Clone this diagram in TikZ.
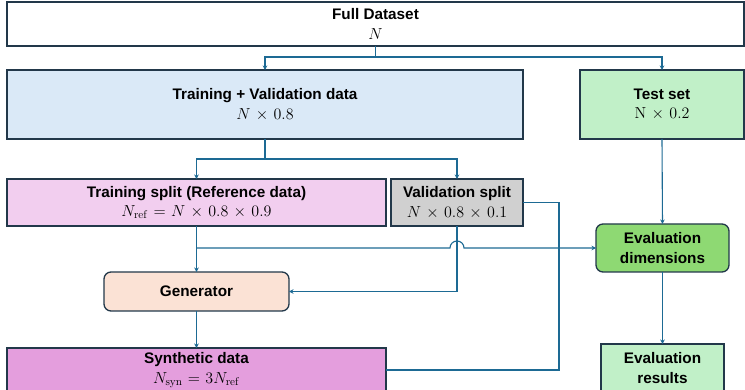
\RequirePackage{fix-cm}
\documentclass[tikz,border=0pt]{standalone}
\usepackage[no-math]{fontspec}
\setsansfont{Liberation Sans}
\usetikzlibrary{arrows.meta,calc}
\definecolor{bordc}{HTML}{22384A}
\definecolor{connc}{HTML}{1D6A94}
\definecolor{tvc}{HTML}{DAE9F7}
\definecolor{testc}{HTML}{C1F0C8}
\definecolor{trainc}{HTML}{F2CEEF}
\definecolor{valc}{HTML}{D0D0D0}
\definecolor{evdc}{HTML}{8ED973}
\definecolor{genc}{HTML}{FBE2D5}
\definecolor{sync}{HTML}{E49EDD}
\newcommand\lbl{\fontsize{15.3}{19.5}\selectfont}
\newcommand\hd[1]{{\sffamily\bfseries #1}}
\newcommand\mth[1]{{\fontsize{16}{19.5}\selectfont\medmuskip=6mu\thickmuskip=6mu$#1$}}
\begin{document}
\begin{tikzpicture}[x=1pt,y=-1pt,
  box/.style={draw=bordc, line width=1.3pt, inner sep=0pt, outer sep=0pt, align=center, font=\lbl},
  rbox/.style={box, rounded corners=7pt},
  conn/.style={draw=connc, line width=1.1pt},
  arr/.style={conn, -{Stealth[length=4.5pt,width=4.5pt]}}]
\useasboundingbox (0,0) rectangle (745,390);
\clip (0,0) rectangle (745,390);
\node[box, fill=white, minimum width=737, minimum height=44] (full) at (375.5,24) {\hd{Full Dataset}\\\mth{N}};
\node[box, fill=tvc, minimum width=516, minimum height=69] (tv) at (265,104.5) {\hd{Training + Validation data}\\\mth{N\times 0.8}};
\node[box, fill=testc, minimum width=164, minimum height=69] (test) at (662,104.5) {\hd{Test set}\\\mth{\mathrm{N}\times 0.2}};
\node[box, fill=trainc, minimum width=379, minimum height=47] (train) at (196.5,202.5) {\hd{Training split (Reference data)}\\\mth{N_{\mathrm{ref}} = N\times 0.8\times 0.9}};
\node[box, fill=valc, minimum width=132, minimum height=47] (val) at (457,202.5) {\hd{Validation split}\\\mth{N\times 0.8\times 0.1}};
\node[rbox, fill=evdc, minimum width=133, minimum height=48] (evald) at (662.5,248) {\hd{Evaluation}\\\hd{dimensions}};
\node[rbox, fill=genc, minimum width=185, minimum height=39] (gen) at (196.5,291.5) {\hd{Generator}};
\node[box, fill=sync, minimum width=379, minimum height=44] (syn) at (196.5,370) {\hd{Synthetic data}\\\mth{N_{\mathrm{syn}} = 3N_{\mathrm{ref}}}};
\node[box, fill=testc, minimum width=123, minimum height=48] (evalr) at (662.5,368) {\hd{Evaluation}\\\hd{results}};
% connectors
\draw[arr] (full.south) -- ++(0,11) -| (tv.north);
\draw[arr] (full.south) -- ++(0,11) -| (test.north);
\draw[arr] (tv.south) -- ++(0,20) -| (train.north);
\draw[arr] (tv.south) -- ++(0,20) -| (val.north);
\draw[arr] (test.south) -- (evald.north);
\draw[arr] (train.south) -- (gen.north);
\coordinate (b1) at (train.south |- evald.west);
\draw[arr] (b1) -- ($(val.south |- b1)+(-7,0)$) arc[start angle=180, end angle=0, radius=7pt] -- (evald.west);
\draw[arr] (val.south) |- (gen.east);
\coordinate (c1) at (559,202.5);
\draw[conn] (val.east) -- (c1) |- (syn.east);
\draw[arr] (gen.south) -- (syn.north);
\draw[arr] (evald.south) -- (evalr.north);
\end{tikzpicture}
\end{document}
